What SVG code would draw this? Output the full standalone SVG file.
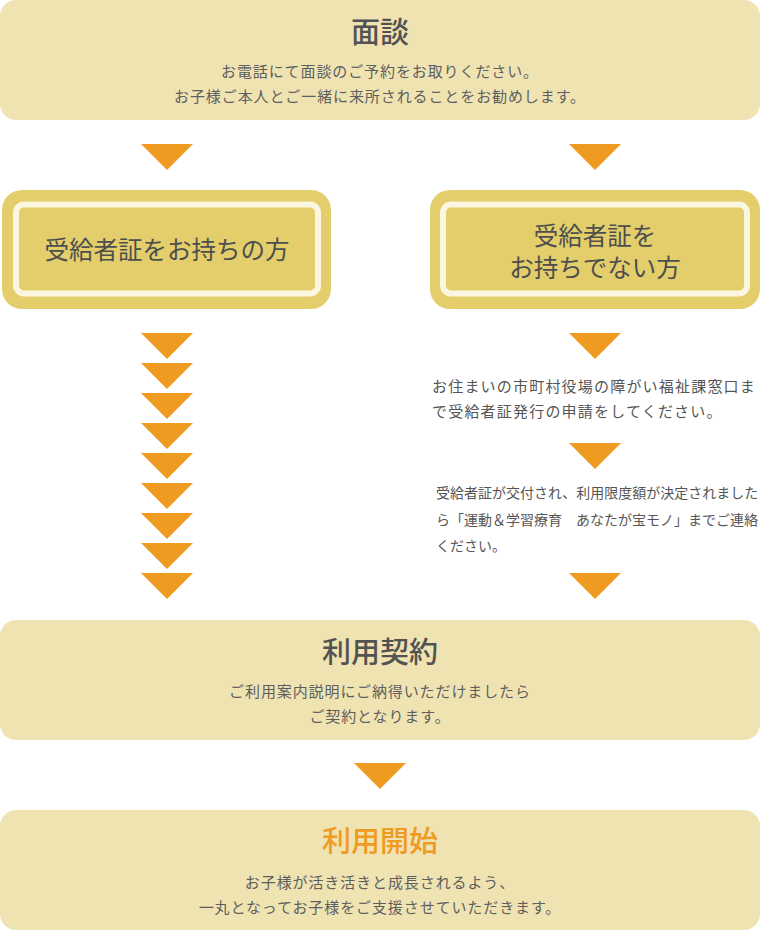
<svg xmlns="http://www.w3.org/2000/svg" width="760" height="930" viewBox="0 0 760 930">
<style>
.card{fill:#efe3b2}
.ybox{fill:#e3ce6b}
.inner{fill:none;stroke:#fbf6e0;stroke-width:6}
.title{font-family:"Noto Sans CJK JP","Noto Sans",sans-serif;font-size:29px;font-weight:500;fill:#525252;text-anchor:middle}
.body{font-family:"Noto Sans CJK JP","Noto Sans",sans-serif;font-size:15px;fill:#5e5e5e;text-anchor:middle;letter-spacing:0.9px}
.ytext{font-family:"Noto Sans CJK JP","Noto Sans",sans-serif;font-size:24.5px;fill:#4e4e4e;text-anchor:middle}
.note{font-family:"Noto Sans CJK JP","Noto Sans",sans-serif;fill:#555}
.arrow{fill:#ef9a20}
</style>
<g id="node-mendan">
<rect class="card" x="0" y="0" width="760" height="120" rx="16"/>
<text class="title" x="380" y="43">面談</text>
<text class="body" x="380" y="77">お電話にて面談のご予約をお取りください。</text>
<text class="body" x="380" y="102">お子様ご本人とご一緒に来所されることをお勧めします。</text>
</g>
<g id="node-with-cert">
<rect class="ybox" x="2" y="190" width="329" height="119" rx="20"/>
<rect class="inner" x="16" y="204.5" width="302" height="89" rx="8"/>
<text class="ytext" x="167" y="259">受給者証をお持ちの方</text>
</g>
<g id="node-without-cert">
<rect class="ybox" x="430" y="190" width="330" height="119" rx="20"/>
<rect class="inner" x="443" y="204.5" width="304" height="89" rx="8"/>
<text class="ytext" x="595" y="245">受給者証を</text>
<text class="ytext" x="595" y="277">お持ちでない方</text>
</g>
<g id="node-step-apply">
<text class="note" x="432" y="392" font-size="15" letter-spacing="1.2">お住まいの市町村役場の障がい福祉課窓口ま</text>
<text class="note" x="432" y="417" font-size="15" letter-spacing="1.2">で受給者証発行の申請をしてください。</text>
</g>
<g id="node-step-contact">
<text class="note" x="436" y="498" font-size="14">受給者証が交付され、利用限度額が決定されました</text>
<text class="note" x="436" y="525" font-size="14">ら「運動＆学習療育　あなたが宝モノ」までご連絡</text>
<text class="note" x="436" y="551" font-size="14">ください。</text>
</g>
<g id="node-keiyaku">
<rect class="card" x="0" y="620" width="760" height="120" rx="16"/>
<text class="title" x="380" y="663">利用契約</text>
<text class="body" x="380" y="697">ご利用案内説明にご納得いただけましたら</text>
<text class="body" x="380" y="722">ご契約となります。</text>
</g>
<g id="node-kaishi">
<rect class="card" x="0" y="810" width="760" height="120" rx="16"/>
<text class="title" x="380" y="852" style="fill:#ef9a20">利用開始</text>
<text class="body" x="380" y="888">お子様が活き活きと成長されるよう、</text>
<text class="body" x="380" y="913">一丸となってお子様をご支援させていただきます。</text>
</g>
<g id="connectors">
<polygon class="arrow" points="141,144 193,144 167,170"/>
<polygon class="arrow" points="569,144 621,144 595,170"/>
<polygon class="arrow" points="141,333 193,333 167,359"/>
<polygon class="arrow" points="141,363 193,363 167,389"/>
<polygon class="arrow" points="141,393 193,393 167,419"/>
<polygon class="arrow" points="141,423 193,423 167,449"/>
<polygon class="arrow" points="141,453 193,453 167,479"/>
<polygon class="arrow" points="141,483 193,483 167,509"/>
<polygon class="arrow" points="141,513 193,513 167,539"/>
<polygon class="arrow" points="141,543 193,543 167,569"/>
<polygon class="arrow" points="141,573 193,573 167,599"/>
<polygon class="arrow" points="569,333 621,333 595,359"/>
<polygon class="arrow" points="569,443 621,443 595,469"/>
<polygon class="arrow" points="569,573 621,573 595,599"/>
<polygon class="arrow" points="354,763 406,763 380,789"/>
</g>
</svg>
